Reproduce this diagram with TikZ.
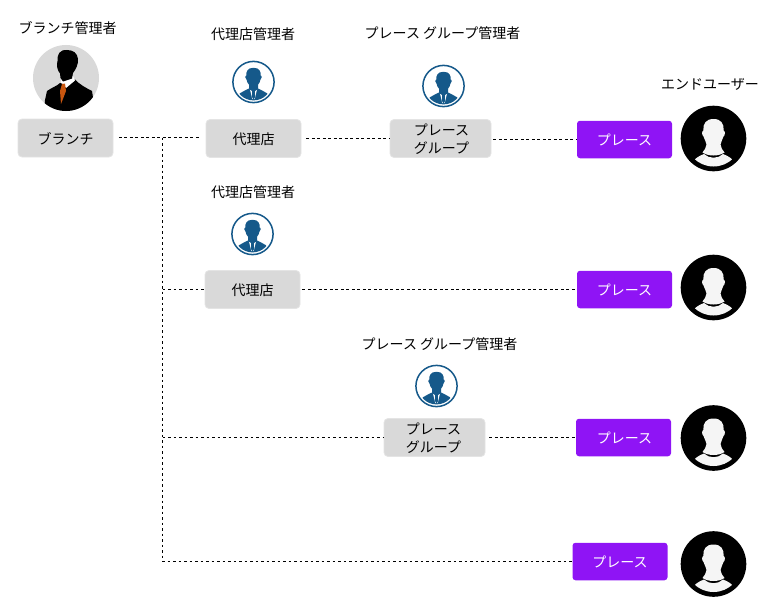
\documentclass[tikz,border=0pt]{standalone}
\usepackage{fontspec}
\setmainfont{Noto Sans CJK JP}
\usetikzlibrary{calc}
\definecolor{boxgrey}{HTML}{D9D9D9}
\definecolor{boxedge}{HTML}{E4E4E4}
\definecolor{placeviolet}{HTML}{8F14F5}
\definecolor{managerblue}{HTML}{15598A}
\definecolor{usershade}{HTML}{F5F5F5}
\definecolor{tieorange}{HTML}{C9560F}
% fixed line box so that box labels sit at the same height everywhere
\newcommand{\boxtext}[1]{\raisebox{0pt}[12.5pt][0.5pt]{#1}}
\tikzset{
  x=1pt,y=-1pt,
  label text/.style={font=\fontsize{14}{16}\selectfont,text=black,inner sep=0pt},
  orgbox/.style={draw=boxedge,line width=0.8pt,fill=boxgrey,rounded corners=4pt,
    minimum height=38pt,inner sep=0pt,align=center,
    font=\fontsize{14}{17.5}\selectfont},
  placebox/.style={fill=placeviolet,rounded corners=3pt,minimum width=95pt,minimum height=37.5pt,
    inner sep=0pt,text=white,font=\fontsize{14}{16}\selectfont},
  link/.style={dash pattern=on 2.8pt off 2.7pt,line width=1.5pt,black},
  % blue outlined manager portrait, radius 21
  agent/.pic={
    \draw[managerblue,line width=1.5pt,fill=white] (0,0) circle (20.6);
    \begin{scope}
      \clip (0,0) circle (18.4);
      \fill[managerblue] (-19,20) .. controls (-17,11) and (-10,9.5) .. (-4.5,6.5)
        -- (4.5,6.5) .. controls (10,9.5) and (17,11) .. (19,20) -- cycle;
      \fill[white] (-3.6,7.2) -- (3.6,7.2) -- (1.2,17) -- (-1.2,17) -- cycle;
      \fill[managerblue] (-1.3,8.8) -- (1.3,8.8) -- (1.5,15) -- (0,18) -- (-1.5,15) -- cycle;
    \end{scope}
    \fill[managerblue] (-4.5,2.5) -- (-4.5,7) -- (0,10) -- (4.5,7) -- (4.5,2.5) -- cycle;
    \fill[managerblue] (0,-14.2) .. controls (-6,-14.2) and (-7.4,-10.5) .. (-7.2,-6.5)
      .. controls (-8.6,-6.5) and (-8.4,-2.5) .. (-6.9,-2.3)
      .. controls (-6.4,1.5) and (-3.4,4.8) .. (0,4.8)
      .. controls (3.4,4.8) and (6.4,1.5) .. (6.9,-2.3)
      .. controls (8.4,-2.5) and (8.6,-6.5) .. (7.2,-6.5)
      .. controls (7.4,-10.5) and (6,-14.2) .. (0,-14.2) -- cycle;
  },
  % black end-user portrait, radius 33
  enduser/.pic={
    \fill[black] (0,0) circle (32.8);
    \begin{scope}
      \clip (0,0) circle (28);
      \fill[usershade] (-21.5,34) -- (-21.5,24) .. controls (-19,20.5) and (-15,17.5) .. (-9.5,15.5)
        .. controls (-4.5,20.5) and (4.5,20.5) .. (9.5,15.5)
        .. controls (15,17.5) and (19,20.5) .. (21.5,24) -- (21.5,34) -- cycle;
    \end{scope}
    \fill[usershade] (0,-19.5) .. controls (-7.5,-19.5) and (-10.5,-15) .. (-10.2,-8)
      .. controls (-12,-7.5) and (-11.6,-3) .. (-10,-2)
      .. controls (-9.4,1.5) and (-7,3) .. (-7,6)
      .. controls (-7,9.5) and (-9.5,11.5) .. (-11,14)
      .. controls (-5,18) and (5,18) .. (11,14)
      .. controls (9.5,11.5) and (7,9.5) .. (7,6)
      .. controls (7,3) and (9.4,1.5) .. (10,-2)
      .. controls (11.6,-3) and (12,-7.5) .. (10.2,-8)
      .. controls (10.5,-15) and (7.5,-19.5) .. (0,-19.5) -- cycle;
  },
  % branch manager silhouette on a grey disc
  chief/.pic={
    \fill[boxgrey] (0,0) circle (33);
    \begin{scope}
      \clip (0,0) circle (33);
      \fill[black] (-22,33) -- (-21,22) -- (-19,13) .. controls (-14,9.5) and (-9,8) .. (-6,5)
        -- (9,1.5) .. controls (13,6) and (20,10) .. (26,13) -- (28,26) -- (29,33) -- cycle;
      \fill[white] (-5.5,5) -- (-4.5,-0.5) -- (7,-2) -- (9,2.5) -- (0,10) -- (-3,6) -- cycle;
      \fill[tieorange] (-4,6) -- (-1,5.5) -- (0,13) -- (-5,26) -- (-6,13) -- cycle;
    \end{scope}
    \fill[black] (1,-28) .. controls (-6,-28.5) and (-9,-24) .. (-8.5,-17)
      .. controls (-9.5,-13) and (-9,-8) .. (-6,-4.5)
      -- (-5.5,0) -- (-3,3.5) -- (6,0.5) -- (7,-5)
      .. controls (10,-9) and (12.5,-14) .. (12,-19)
      .. controls (11.5,-25) and (7,-28) .. (1,-28) -- cycle;
  }
}
\begin{document}
\begin{tikzpicture}
\useasboundingbox (0,0) rectangle (763,610);

% organisation boxes
\node[orgbox,minimum width=95pt] (branch) at (65.5,138) {\boxtext{ブランチ}};
\node[orgbox,minimum width=95pt] (agencyA) at (253.5,138.5) {\boxtext{代理店}};
\node[orgbox,minimum width=101pt] (groupA) at (440.5,138.5) {\hspace*{2pt}\boxtext{プレース}\\\hspace*{2pt}\boxtext{グループ}};
\node[orgbox,minimum width=95pt] (agencyB) at (252.5,289.5) {\boxtext{代理店}};
\node[orgbox,minimum width=101pt] (groupB) at (434.5,437.5) {\hspace*{-2pt}\boxtext{プレース}\\\hspace*{-2pt}\boxtext{グループ}};

% places
\node[placebox] (placeA) at (624.5,139.5) {\boxtext{プレース}};
\node[placebox] (placeB) at (624.5,289.5) {\boxtext{プレース}};
\node[placebox] (placeC) at (623.5,437.5) {\hspace*{2pt}\boxtext{プレース}};
\node[placebox] (placeD) at (620,561.5) {プレース};

% headings
\node[label text] (headBranch) at (67.5,28) {ブランチ管理者};
\node[label text] (headAgencyA) at (253,34) {代理店管理者};
\node[label text] (headGroupA) at (442.5,33) {プレース グループ管理者};
\node[label text] (headUsers) at (710,84) {エンドユーザー};
\node[label text] (headAgencyB) at (253,192) {代理店管理者};
\node[label text] (headGroupB) at (439.5,344) {プレース グループ管理者};

% portraits
\pic at (66,78) {chief};
\pic at (253.5,82) {agent};
\pic at (443.5,86) {agent};
\pic at (252.5,234) {agent};
\pic at (436.5,386) {agent};
\pic at (713.5,138.5) {enduser};
\pic at (713.5,287.5) {enduser};
\pic at (713.5,438) {enduser};
\pic at (713.5,564) {enduser};

% dotted reporting lines
\coordinate (busTop) at (162.5,137.5);
\draw[link,shorten <=5.5pt,shorten >=5pt] (branch.east |- busTop) -- (agencyA.west |- busTop);
\draw[link,shorten <=5pt] (agencyA.east) -- (groupA.west);
\draw[link,shorten <=2pt] (groupA.east |- placeA.west) -- (placeA.west);
\draw[link] (busTop) -- (busTop |- placeD.west) -- (placeD.west);
\draw[link] (busTop |- agencyB.west) -- (agencyB.west);
\draw[link,shorten <=2pt] (agencyB.east) -- (placeB.west);
\draw[link] (busTop |- groupB.west) -- (groupB.west);
\draw[link,shorten <=4pt] (groupB.east) -- (placeC.west);
\end{tikzpicture}
\end{document}
